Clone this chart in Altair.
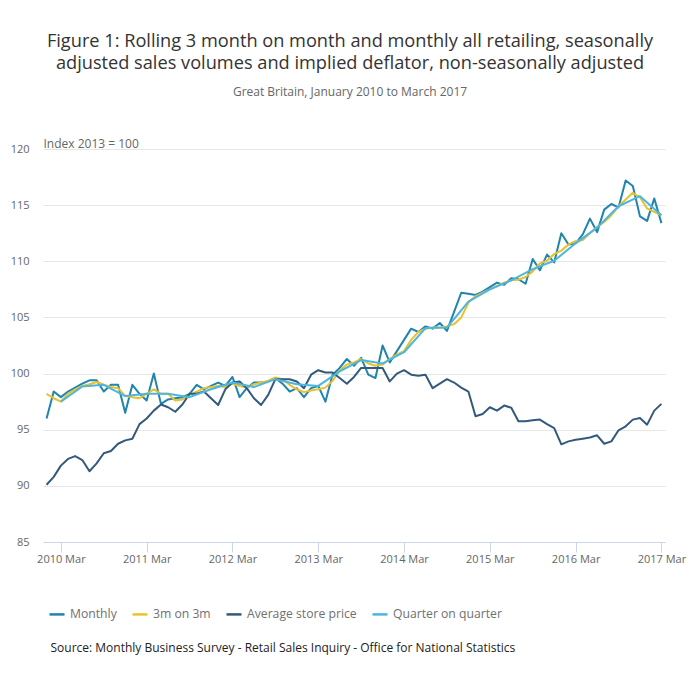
import json
import altair as alt
import pandas as pd

# ---------------- data ----------------
series_names = ["Monthly", "3m on 3m", "Average store price", "Quarter on quarter"]
series_colors = ["#2084ad", "#e8c12e", "#335a7c", "#4cb6e0"]

# month index 0 = January 2010 ... 86 = March 2017
monthly = [
    96.0, 98.4, 97.9, 98.4, 98.75, 99.1, 99.4, 99.4, 98.4, 99.0, 99.0, 96.5,
    99.0, 98.2, 97.6, 100.0, 97.3, 97.7, 97.8, 97.9, 98.2, 99.0, 98.6, 98.9,
    99.2, 98.9, 99.7, 97.9, 98.7, 99.2, 99.2, 99.3, 99.6, 99.1, 98.4, 98.7,
    97.9, 98.7, 98.9, 97.5, 99.9, 100.5, 101.3, 100.7, 101.4, 99.9, 99.6, 102.5,
    101.0, 102.0, 103.0, 104.0, 103.7, 104.2, 104.0, 104.5, 103.8, 105.5, 107.2, 107.1,
    107.0, 107.3, 107.7, 108.1, 107.9, 108.5, 108.4, 108.0, 110.2, 109.2, 110.6, 109.9,
    112.5, 111.5, 111.6, 112.4, 113.8, 112.6, 114.6, 115.1, 114.8, 117.2, 116.7, 114.0,
    113.6, 115.6, 113.4,
]
three_on_three = [
    98.2, 97.8, 97.5, 98.2, 98.6, 98.9, 99.05, 99.25, 99.0, 98.8, 98.7, 98.0,
    97.9, 97.8, 98.2, 98.6, 98.2, 98.2, 97.6, 97.7, 98.1, 98.4, 98.7, 98.8,
    98.9, 98.8, 99.1, 98.9, 98.75, 99.05, 99.2, 99.35, 99.65, 99.5, 99.0, 98.6,
    98.35, 98.5, 98.6, 98.75, 99.35, 100.3, 100.8, 101.0, 101.3, 100.9, 100.7, 100.8,
    101.3, 101.7, 102.0, 103.0, 103.7, 104.0, 104.1, 104.1, 104.2, 104.4, 105.0, 106.3,
    106.9, 107.2, 107.5, 107.8, 108.1, 108.3, 108.35, 108.6, 109.1, 109.8, 110.05, 110.65,
    110.95, 111.5, 111.8, 111.9, 112.5, 113.05, 113.5, 114.1, 114.9, 115.5, 116.1, 115.7,
    114.7, 114.4, 114.1,
]
avg_store_price = [
    90.1, 90.8, 91.8, 92.4, 92.65, 92.3, 91.3, 92.0, 92.9, 93.1, 93.75, 94.05,
    94.2, 95.5, 96.0, 96.7, 97.25, 97.0, 96.6, 97.25, 98.2, 98.2, 98.4, 97.8,
    97.2, 98.6, 99.2, 99.3, 98.7, 97.8, 97.2, 98.1, 99.5, 99.5, 99.5, 99.3,
    98.7, 99.9, 100.3, 100.1, 100.1, 99.6, 99.1, 99.7, 100.5, 100.5, 100.5, 100.5,
    99.3, 100.0, 100.3, 99.9, 99.8, 99.9, 98.7, 99.1, 99.5, 99.2, 98.75, 98.4,
    96.2, 96.4, 97.0, 96.7, 97.15, 96.95, 95.75, 95.75, 95.85, 95.9, 95.5, 95.15,
    93.7, 93.96, 94.1, 94.2, 94.3, 94.5, 93.75, 93.96, 94.95, 95.3, 95.9, 96.05,
    95.45, 96.7, 97.3,
]
# quarter on quarter: one value per quarter (Mar, Jun, Sep, Dec), months 2, 5, 8, ... 86
quarter_months = list(range(2, 87, 3))
quarter_on_quarter = [
    97.5, 98.85, 99.0, 98.0, 98.2, 98.2, 97.9, 98.6, 99.2, 98.8,
    99.5, 99.05, 98.9, 100.2, 101.2, 100.9, 101.9, 104.05, 104.1, 106.4,
    107.5, 108.3, 109.3, 110.05, 111.6, 113.0, 114.9, 115.8, 114.1,
]

tick_months = [2, 14, 26, 38, 50, 62, 74, 86]
tick_labels = ["2010 Mar", "2011 Mar", "2012 Mar", "2013 Mar",
               "2014 Mar", "2015 Mar", "2016 Mar", "2017 Mar"]
y_ticks = [85, 90, 95, 100, 105, 110, 115, 120]

title_lines = ["Figure 1: Rolling 3 month on month and monthly all retailing, seasonally",
               "adjusted sales volumes and implied deflator, non-seasonally adjusted"]
subtitle = "Great Britain, January 2010 to March 2017"
y_title = "Index 2013 = 100"
source_text = "Source: Monthly Business Survey - Retail Sales Inquiry - Office for National Statistics"

# ---------------- tables ----------------
rows = []
for name, vals in [(series_names[0], monthly), (series_names[1], three_on_three),
                   (series_names[2], avg_store_price)]:
    for i, v in enumerate(vals):
        rows.append({"month": i, "value": v, "series": name})
for m, v in zip(quarter_months, quarter_on_quarter):
    rows.append({"month": m, "value": v, "series": series_names[3]})
df = pd.DataFrame(rows)

FONT = "Open Sans"
label_expr = json.dumps(tick_labels) + "[round((datum.value - 2) / 12)]"

x_enc = alt.X(
    "month:Q",
    scale=alt.Scale(domain=[-0.5, 86.5], nice=False, zero=False),
    axis=alt.Axis(
        values=tick_months, labelExpr=label_expr, title=None, grid=False,
        domainColor="#ccd6eb", tickColor="#ccd6eb", tickSize=10,
        labelColor="#666666", labelFontSize=11, labelFont=FONT, labelPadding=1,
        labelFlush=False,
    ),
)
y_enc = alt.Y(
    "value:Q",
    scale=alt.Scale(domain=[85, 120], nice=False, zero=False),
    axis=alt.Axis(
        values=y_ticks, title=y_title, titleAngle=0, titleX=0, titleY=-2,
        titleAlign="left", titleBaseline="alphabetic", titleFont=FONT,
        titleFontSize=12, titleFontWeight="normal", titleColor="#666666",
        domain=False, ticks=False, grid=True, gridColor="#e6e6e6",
        labelColor="#666666", labelFontSize=11, labelFont=FONT, labelPadding=14,
    ),
)
color_enc = alt.Color(
    "series:N",
    scale=alt.Scale(domain=series_names, range=series_colors),
    legend=alt.Legend(
        title=None, orient="none", legendX=5, legendY=456, direction="horizontal",
        symbolType="stroke", symbolStrokeWidth=2.5, symbolSize=225,
        labelFont=FONT, labelFontSize=12.2, labelColor="#707070",
        columnPadding=10, labelOffset=4, padding=0,
    ),
)

layers = []
for name in series_names:
    layers.append(
        alt.Chart(df)
        .transform_filter(alt.datum.series == name)
        .mark_line(strokeWidth=2, strokeJoin="round")
        .encode(x=x_enc, y=y_enc, color=color_enc)
    )

source = alt.Chart(pd.DataFrame({"t": [source_text]})).mark_text(
    align="left", baseline="middle", font=FONT, fontSize=12, color="#222222"
).encode(text="t:N", x=alt.value(7.5), y=alt.value(499))
layers.append(source)

chart = (
    alt.layer(*layers)
    .properties(
        width=622, height=393,
        autosize=alt.AutoSizeParams(type="none"),
        padding={"left": 43, "top": 149, "right": 35, "bottom": 150},
        title=alt.TitleParams(
            text=title_lines, subtitle=subtitle, anchor="middle", frame="group",
            font=FONT, fontSize=18.2, fontWeight="normal", color="#333333",
            lineHeight=22, subtitleFont=FONT, subtitleFontSize=12,
            subtitleColor="#666666", subtitlePadding=14, offset=38, dx=-4,
        ),
    )
    .configure_view(stroke=None)
)

chart.save("out.html", embed_options={"renderer": "svg", "actions": False})
